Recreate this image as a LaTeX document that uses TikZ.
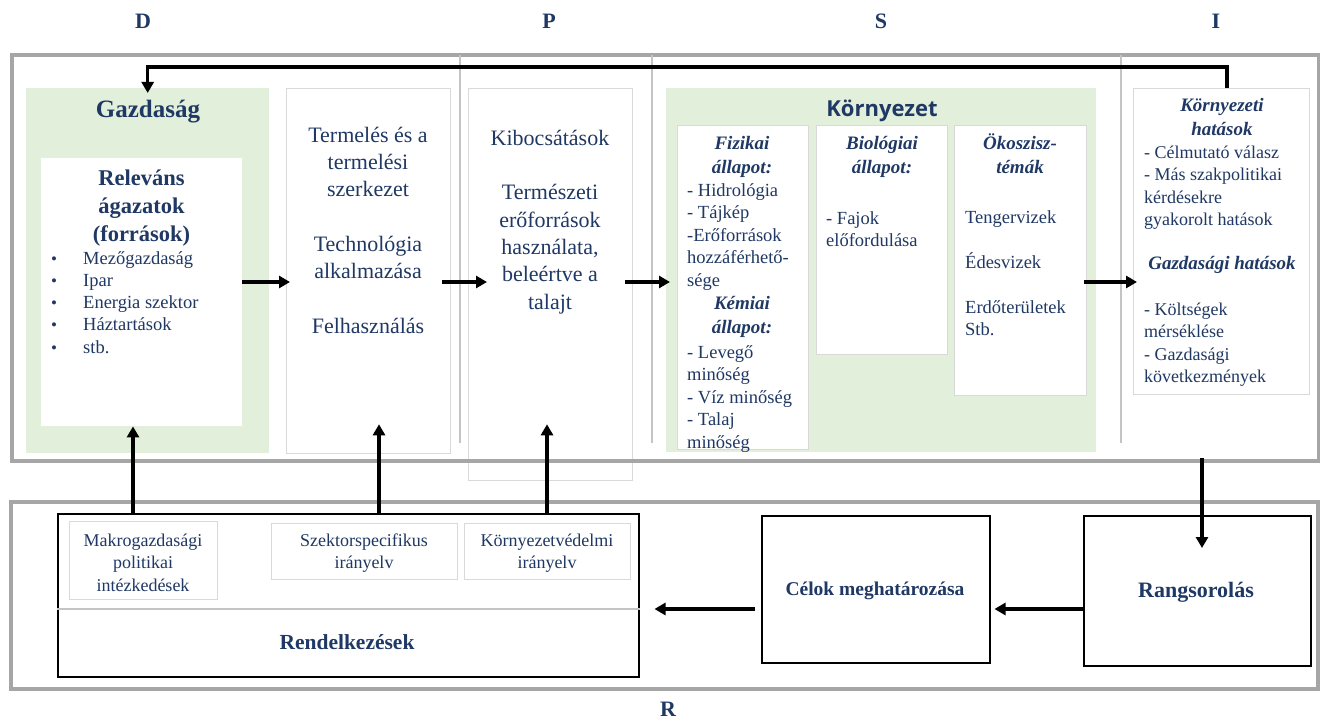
\documentclass[tikz,border=0pt]{standalone}
\usepackage{fontspec}
\setmainfont{Liberation Serif}
\newfontfamily\envsans{Open Sans}
\usetikzlibrary{arrows.meta}
\definecolor{ink}{HTML}{1F3864}
\definecolor{framegray}{HTML}{A6A6A6}
\definecolor{thingray}{HTML}{D9D9D9}
\definecolor{sepgray}{HTML}{C4C4C4}
\definecolor{leaf}{HTML}{E2EFDA}

\newcommand\fs[2]{\fontsize{#1}{#2}\selectfont}
% invisible strut: the top of a text block lies 1em above its first baseline
\newcommand\topln{\rule{0pt}{1em}}
% list bullet
\newcommand\bul{\makebox[32pt][l]{\fs{17}{22}•}}
% box node given by its top-left and bottom-right corners
\newcommand\boxat[6]{\node[#6, anchor=north west, inner sep=0pt,
  minimum width={(#4-#2)*1pt}, minimum height={(#5-#3)*1pt}] (#1) at (#2,#3) {};}

\begin{document}
\begin{tikzpicture}[x=1pt,y=-1pt,
  frameb/.style={draw=framegray, line width=4pt},
  thinb/.style={draw=thingray, line width=1.3pt, fill=white},
  panel/.style={fill=leaf},
  plainb/.style={fill=white},
  blackb/.style={draw=black, line width=1.5pt, fill=white},
  arr/.style={line width=3.2pt, -{Triangle[length=11pt,width=12pt]}},
  sepline/.style={draw=sepgray, line width=1.8pt},
  txt/.style={text=ink, inner sep=0pt, anchor=base, align=center},
  ctxt/.style={text=ink, inner sep=0pt, anchor=north, align=center},
  ltxt/.style={text=ink, inner sep=0pt, anchor=north west, align=left},
  body/.style={font=\fs{18.5}{22.5}},
  big/.style={font=\fs{22}{27.3}},
  hdr/.style={font=\fs{19}{24}\bfseries\itshape},
  letter/.style={font=\fs{22}{26}\bfseries}]
\useasboundingbox (0,0) rectangle (1320,719);

% ---- upper band: D, P, S, I ----
\boxat{gzp}{26}{88}{269}{453}{panel}
\boxat{rel}{41}{158}{242}{426}{plainb}
\boxat{tp}{286}{88}{450}{453}{thinb}
\boxat{kib}{468}{88}{632}{480}{thinb}
\boxat{envp}{666}{88}{1096}{452}{panel}
\boxat{fiz}{677}{125}{808}{449}{thinb}
\boxat{bio}{816}{125}{947}{354}{thinb}
\boxat{eco}{954}{125}{1086}{395}{thinb}
\boxat{hat}{1133}{88}{1309}{394}{thinb}
\boxat{topf}{10}{53}{1317}{459}{frameb}
\draw[sepline] (460,55) -- (460,443);
\draw[sepline] (652,55) -- (652,443);
\draw[sepline] (1121,55) -- (1121,443);

% ---- lower band: R ----
\boxat{botf}{9}{500}{1316}{687}{frameb}
\boxat{rend}{57}{513}{638}{676}{blackb}
\draw[draw=sepgray, line width=2.5pt] (rend.west |- 0,609) -- (rend.east |- 0,609);
\boxat{mak}{69}{521}{217}{599}{thinb}
\boxat{szk}{271}{523}{457}{579}{thinb}
\boxat{kvd}{464}{523}{630}{579}{thinb}
\boxat{cel}{761}{515}{989}{662}{blackb}
\boxat{rang}{1083}{515}{1310}{665}{blackb}

% ---- column letters ----
\node[txt, letter] (lD) at (143,29) {D};
\node[txt, letter] (lP) at (549,29) {P};
\node[txt, letter] (lS) at (881,29) {S};
\node[txt, letter] (lI) at (1216,29) {I};
\node[txt, letter] (lR) at (668,716) {R};

% ---- Gazdaság ----
\node[txt, font=\fs{25}{30}\bfseries] (gzt) at (148,118) {Gazdaság};
\node[ctxt, font=\fs{22.5}{28}\bfseries] (relt) at (141.5,162.5) {\topln Releváns\\ágazatok\\(források)};
\node[ltxt, font=\fs{18.5}{22.2}] (rell) at (51,245.5)
  {\topln\bul Mezőgazdaság\\
   \bul Ipar\\
   \bul Energia szektor\\
   \bul Háztartások\\
   \bul stb.};

% ---- Termelés ----
\node[ctxt, big] (tpt) at (368,120)
  {\topln Termelés és a\\termelési\\szerkezet\\[27.3pt]Technológia\\alkalmazása\\[27.3pt]Felhasználás};

% ---- Kibocsátások ----
\node[ctxt, big] (kibt) at (550,123)
  {\topln Kibocsátások\\[27.3pt]Természeti\\erőforrások\\használata,\\beleértve a\\talajt};

% ---- Környezet ----
\node[txt, font=\fs{22}{26}\envsans\bfseries] (envt) at (882,117) {Környezet};
\node[ctxt, hdr] (fizh) at (742,130) {\topln Fizikai\\állapot:};
\node[ltxt, body] (fizl) at (687,177.5)
  {\topln - Hidrológia\\- Tájkép\\-Erőforrások\\hozzáférhető-\\sége};
\node[ctxt, hdr] (kemh) at (742,290) {\topln Kémiai\\állapot:};
\node[ltxt, body] (keml) at (687,339.5)
  {\topln - Levegő\\minőség\\- Víz minőség\\- Talaj\\minőség};
\node[ctxt, hdr] (bioh) at (882,130) {\topln Biológiai\\állapot:};
\node[ltxt, body] (biol) at (826,205.5) {\topln - Fajok\\előfordulása};
\node[ctxt, hdr] (ecoh) at (1020,130) {\topln Ökoszisz-\\témák};
\node[ltxt, body] (ecol) at (965,204.5)
  {\topln Tengervizek\\[22.5pt]Édesvizek\\[22.5pt]Erdőterületek\\Stb.};

% ---- Hatások ----
\node[ctxt, hdr] (hath) at (1222,92) {\topln Környezeti\\hatások};
\node[ltxt, font=\fs{18}{22.6}] (hatl) at (1144,140)
  {\topln - Célmutató válasz\\- Más szakpolitikai\\kérdésekre\\gyakorolt hatások};
\node[txt, hdr] (gazh) at (1222,270) {Gazdasági hatások};
\node[ltxt, font=\fs{18}{22.4}] (gazl) at (1144,297)
  {\topln - Költségek\\mérséklése\\- Gazdasági\\következmények};

% ---- Rendelkezések ----
\node[ctxt, font=\fs{18}{22.5}] (makt) at (143,528) {\topln Makrogazdasági\\politikai\\intézkedések};
\node[ctxt, font=\fs{18}{22.5}] (szkt) at (364,528) {\topln Szektorspecifikus\\irányelv};
\node[ctxt, font=\fs{18}{22.5}] (kvdt) at (547,528) {\topln Környezetvédelmi\\irányelv};
\node[txt, font=\fs{21.5}{26}\bfseries] (rendt) at (347,649) {Rendelkezések};
\node[txt, font=\fs{19.5}{24}\bfseries] (celt) at (875,595) {Célok meghatározása};
\node[txt, font=\fs{22}{26}\bfseries] (rangt) at (1196,597) {Rangsorolás};

% ---- connectors ----
\coordinate (row) at (0,282);
\draw[arr] (row -| rel.east) -- ([xshift=4pt]row -| tp.west);
\draw[arr] ([xshift=-9pt]row -| tp.east) -- ([xshift=19pt]row -| kib.west);
\draw[arr] ([xshift=-8pt]row -| kib.east) -- ([xshift=4pt]row -| envp.west);
\draw[arr] ([xshift=-3pt]row -| eco.east) -- ([xshift=4pt]row -| hat.west);

\coordinate (fb) at (1227,67);
\draw[arr] (fb |- hat.north) -- (fb) -- (fb -| gzp.north) -- ([yshift=-5pt]gzp.north);

\coordinate (u1) at (133,0);
\coordinate (u2) at (379,0);
\coordinate (u3) at (547,0);
\draw[arr] (u1 |- rend.north) -- (u1 |- rel.south);
\draw[arr] (u2 |- rend.north) -- ([yshift=30pt]u2 |- tp.south);
\draw[arr] (u3 |- rend.north) -- ([yshift=57pt]u3 |- kib.south);

\coordinate (d1) at (1202,0);
\draw[arr] ([yshift=5pt]d1 |- topf.south) -- ([yshift=-33pt]d1 |- rang.north);

\coordinate (r2) at (0,609);
\draw[arr] (r2 -| rang.west) -- ([xshift=4pt]r2 -| cel.east);
\draw[arr] ([xshift=-6pt]r2 -| cel.west) -- ([xshift=15pt]r2 -| rend.east);
\end{tikzpicture}
\end{document}
